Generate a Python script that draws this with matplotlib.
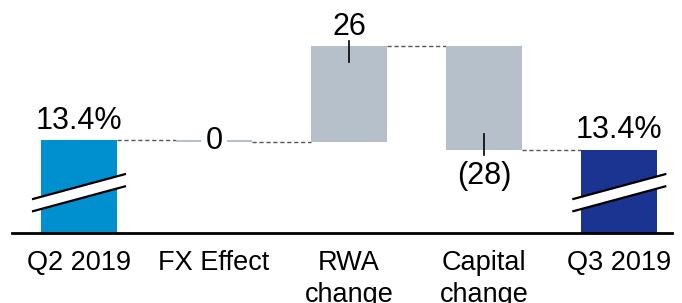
import matplotlib
matplotlib.use("Agg")
import matplotlib.pyplot as plt

categories = ["Q2 2019", "FX Effect", "RWA\nchange", "Capital\nchange", "Q3 2019"]
start_bps = 1340.0          # 13.4% expressed in bps
deltas_bps = [-0.6, 26, -28]  # FX, RWA, Capital
delta_labels = ["0", "26", "(28)"]

value_font = "Liberation Sans"

W, H = 682, 303
fig = plt.figure(figsize=(W / 100, H / 100), dpi=100)
ax_left, ax_right, ax_bottom_px = 12, 672, 233
ax = fig.add_axes([ax_left / W, (H - ax_bottom_px) / H, (ax_right - ax_left) / W, ax_bottom_px / H])

px_per_unit = 3.7
y0 = start_bps - 93 / px_per_unit
ax.set_ylim(y0, y0 + ax_bottom_px / px_per_unit)
ax.set_xlim(-0.496, 4.39)

c_start = "#0090D0"
c_end = "#1B3391"
c_mid = "#B5C0CB"
bw = 0.56

levels = [start_bps]
for d in deltas_bps:
    levels.append(levels[-1] + d)
end_bps = levels[-1]

ax.bar(0, start_bps - y0, bottom=y0, width=bw, color=c_start, zorder=2)
ax.bar(4, end_bps - y0, bottom=y0, width=bw, color=c_end, zorder=2)
for i, d in enumerate(deltas_bps):
    ax.bar(i + 1, d, bottom=levels[i], width=bw, color=c_mid, zorder=2)

for i in range(4):
    ax.plot([i + bw / 2, i + 1 - bw / 2], [levels[i]] * 2,
            ls=(0, (3, 2)), color="#555555", lw=1, zorder=1)

for xc in (0, 4):
    xl, xr = xc - 0.34, xc + 0.34
    yl_up, yr_up = y0 + 9.2, y0 + 15.9
    gap = 3.3
    ax.fill([xl, xr, xr, xl], [yl_up, yr_up, yr_up - gap, yl_up - gap],
            color="white", zorder=3, lw=0)
    ax.plot([xl, xr], [yl_up, yr_up], color="black", lw=1.6, zorder=4)
    ax.plot([xl, xr], [yl_up - gap, yr_up - gap], color="black", lw=1.6, zorder=4)

fs_val = 22
ax.annotate(f"{start_bps / 100:.1f}%", (0, start_bps), xytext=(0, 3), textcoords="offset points",
            ha="center", va="bottom", fontsize=fs_val, family=value_font)
ax.annotate(f"{end_bps / 100:.1f}%", (4, end_bps), xytext=(0, 3), textcoords="offset points",
            ha="center", va="bottom", fontsize=fs_val, family=value_font)

ax.text(1, levels[0] + deltas_bps[0] / 2, delta_labels[0], ha="center", va="center",
        fontsize=fs_val, family=value_font, zorder=5,
        bbox=dict(facecolor="white", edgecolor="none", pad=3))

top_rwa = levels[2]
ax.plot([2, 2], [top_rwa + 5 / px_per_unit, top_rwa - 16 / px_per_unit], color="black", lw=1.2, zorder=4)
ax.annotate(delta_labels[1], (2, top_rwa), xytext=(0, 3), textcoords="offset points",
            ha="center", va="bottom", fontsize=fs_val, family=value_font)

bot_cap = levels[3]
ax.plot([3, 3], [bot_cap + 16 / px_per_unit, bot_cap - 5 / px_per_unit], color="black", lw=1.2, zorder=4)
ax.annotate(delta_labels[2], (3, bot_cap), xytext=(0, -8), textcoords="offset points",
            ha="center", va="top", fontsize=fs_val, family=value_font)

for s in ["top", "left", "right"]:
    ax.spines[s].set_visible(False)
ax.spines["bottom"].set_linewidth(2)
ax.spines["bottom"].set_color("black")
ax.set_yticks([])
ax.set_xticks(range(5))
ax.set_xticklabels(categories, fontsize=19.5, family=value_font, linespacing=1.3)
ax.tick_params(axis="x", length=0, pad=12.5)

fig.savefig("out.png", dpi=100)
